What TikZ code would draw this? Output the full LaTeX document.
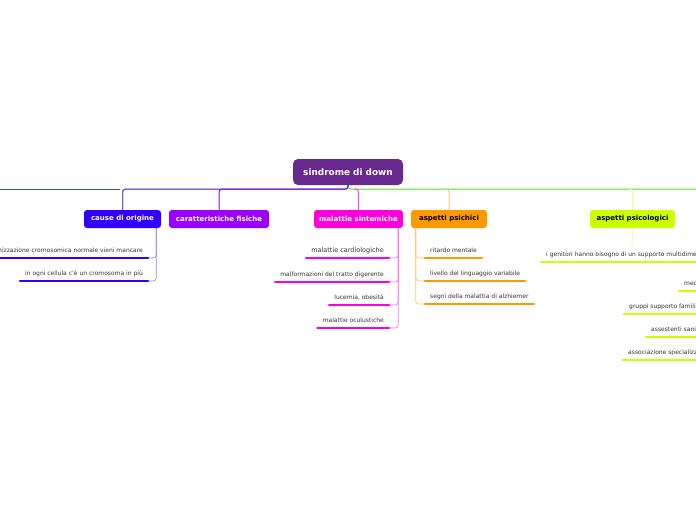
\documentclass[tikz,border=0pt]{standalone}
\usepackage{fontspec}
\setmainfont{DejaVu Sans}
\usetikzlibrary{calc}
\definecolor{rootc}{HTML}{68298F}
\definecolor{causec}{HTML}{3300FF}
\definecolor{causeln}{HTML}{3414D8}
\definecolor{causedrop}{HTML}{6F62FF}
\definecolor{causesub}{HTML}{9488FF}
\definecolor{carc}{HTML}{9900FF}
\definecolor{carln}{HTML}{8A10E6}
\definecolor{malc}{HTML}{FF00DD}
\definecolor{malln}{HTML}{FF44E8}
\definecolor{malsub}{HTML}{FF77EE}
\definecolor{psichc}{HTML}{FF9900}
\definecolor{psichln}{HTML}{FFC670}
\definecolor{psicoc}{HTML}{CCFF00}
\definecolor{psicoln}{HTML}{EEFF99}
\definecolor{greenln}{HTML}{55DD22}
\definecolor{leftln}{HTML}{2A55D0}
\definecolor{txt}{HTML}{333333}
\begin{document}
\begin{tikzpicture}[x=1pt,y=-1pt,
  rootbox/.style={fill=rootc,text=white,rounded corners=5pt,minimum width=110pt,minimum height=26pt,inner sep=0pt,font=\fontsize{8.9}{10}\selectfont\bfseries},
  brbox/.style={rounded corners=3pt,minimum height=18pt,inner sep=0pt,font=\fontsize{7}{8}\selectfont\bfseries},
  item/.style={inner xsep=5pt,inner ysep=0pt,text height=4.5pt,text depth=5pt,text=txt,font=\fontsize{6}{7}\selectfont},
  ul/.style={line width=2.8pt,line cap=round},
  conn/.style={line width=1pt,rounded corners=3pt},
  sub/.style={line width=0.7pt,rounded corners=3pt}]
\useasboundingbox (0,0) rectangle (696,520);
\clip (0,0) rectangle (696,520);
\fill[white] (0,0) rectangle (696,520);

% root and branches
\node[rootbox] (root) at (348,172) {sindrome di down};
\node[brbox,fill=causec,text=white,minimum width=77pt] (cause) at (122.5,219) {cause di origine};
\node[brbox,fill=carc,text=white,minimum width=100pt] (car) at (219,219) {caratteristiche fisiche};
\node[brbox,fill=malc,text=white,minimum width=89pt] (mal) at (358.5,219) {malattie sintemiche};
\node[brbox,fill=psichc,text=black,minimum width=76pt] (psich) at (449,219) {aspetti psichici};
\node[brbox,fill=psicoc,text=black,minimum width=85pt] (psico) at (632.5,219) {aspetti psicologici};

\coordinate (leftend) at (0,189);
\coordinate (rightend) at (700,189);

% main connectors
\draw[conn,draw=greenln] (root.south) -- ++(0,4) -- (rightend);
\draw[conn,draw=causeln] (root.south) -- ++(0,4) -| (cause.north);
\draw[conn,draw=causedrop] ($(cause.north |- leftend)+(4,0)$) -- (cause.north |- leftend) -- (cause.north);
\draw[conn,draw=carln] (root.south) -- ++(0,4) -| (car.north);
\draw[conn,draw=leftln] (leftend) -- ($(leftend -| cause.north)+(-3,0)$);
\draw[conn,draw=malln] ($(mal.north |- rightend)+(-4,0)$) -- (mal.north |- rightend) -- (mal.north);
\draw[conn,draw=psichln] ($(psich.north |- rightend)+(-4,0)$) -- (psich.north |- rightend) -- (psich.north);
\draw[conn,draw=psicoln] ($(psico.north |- rightend)+(-4,0)$) -- (psico.north |- rightend) -- (psico.north);

% cause di origine items
\coordinate (cv) at ($(cause.south east)+(-5,0)$);
\coordinate (c1edge) at (-2,258);
\node[item,anchor=south east] (c1) at (148,258) {nizzazione cromosomica normale vieni mancare};
\node[item,anchor=south east] (c2) at (148,281) {in ogni cellula c'è un cromosoma in più};
\draw[sub,draw=causesub] (cv) |- (c1.south east);
\draw[sub,draw=causesub] (cv) |- (c2.south east);
\draw[ul,draw=causec] (c1edge) -- (c1.south east);
\draw[ul,draw=causec] (c2.south west) -- (c2.south east);

% malattie sintemiche items
\coordinate (mv) at ($(mal.south east)+(-5,0)$);
\node[item,anchor=south east,font=\fontsize{6.5}{7}\selectfont] (m1) at (389,258) {malattie cardiologiche};
\node[item,anchor=south east] (m2) at (389,282) {malformazioni del tratto digerente};
\node[item,anchor=south east] (m3) at (389,305) {lucemia, obesità};
\node[item,anchor=south east] (m4) at (389,328) {malattie oculustiche};
\foreach \n in {m1,m2,m3,m4}{
  \draw[sub,draw=malsub] (mv) |- (\n.south east);
  \draw[ul,draw=malc] (\n.south west) -- (\n.south east);
}

% aspetti psichici items
\coordinate (pv) at ($(psich.south west)+(5,0)$);
\node[item,anchor=south west] (p1) at (425,258) {ritardo mentale};
\node[item,anchor=south west] (p2) at (425,281) {livello del linguaggio variabile};
\node[item,anchor=south west] (p3) at (425,304) {segni della malattia di alzhiemer};
\foreach \n in {p1,p2,p3}{
  \draw[sub,draw=psichln] (pv) |- (\n.south west);
  \draw[ul,draw=psichc] (\n.south west) -- (\n.south east);
}

% aspetti psicologici items
\coordinate (qv) at (632,248);
\draw[conn,draw=psicoln] (psico.south) -- (qv);
\node[item,anchor=south west] (q0) at (541,262) {i genitori hanno bisogno di un supporto multidime};
\node[item,anchor=south west] (q1) at (679,291) {med};
\node[item,anchor=south west] (q2) at (624,314) {gruppi supporto famili};
\node[item,anchor=south west] (q3) at (646,337) {assestenti sani};
\node[item,anchor=south west] (q4) at (623,360) {associazione specializz};
\foreach \n in {q0,q1,q2,q3,q4}{
  \coordinate (\n edge) at (\n.south west -| rightend);
  \draw[ul,draw=psicoc] (\n.south west) -- (\n edge);
}
\end{tikzpicture}
\end{document}
